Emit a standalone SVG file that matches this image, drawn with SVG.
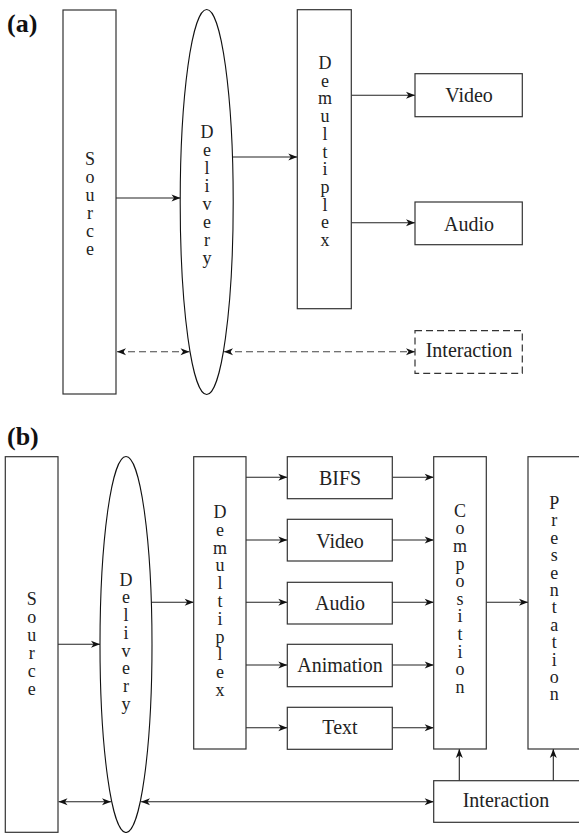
<svg xmlns="http://www.w3.org/2000/svg" width="579" height="833" viewBox="0 0 579 833">
<defs>
<style>
.box{fill:#fff;stroke:#333;stroke-width:1.2}
.dbox{fill:#fff;stroke:#333;stroke-width:1.2;stroke-dasharray:7,4}
.ell{fill:#fff;stroke:#111;stroke-width:1.1}
.t{font-family:"Liberation Serif","Times New Roman",serif;font-size:20px;fill:#222;text-anchor:middle}
.v{font-family:"Liberation Serif","Times New Roman",serif;font-size:18px;fill:#222;text-anchor:middle}
.lbl{font-family:"Liberation Serif","Times New Roman",serif;font-size:26px;font-weight:bold;fill:#111}
.c{fill:none;stroke:#222;stroke-width:1.1}
.a{marker-end:url(#ah)}
.aa{marker-end:url(#ah);marker-start:url(#ah)}
.d{stroke-dasharray:7,4;stroke:#444}
</style>
<marker id="ah" markerUnits="userSpaceOnUse" markerWidth="12" markerHeight="10" viewBox="-1 -5 12 10" refX="9" refY="0" orient="auto-start-reverse">
<path d="M0,-3.5 L9,0 L0,3.5 L2.5,0 Z" fill="#111"/>
</marker>
</defs>

<rect width="579" height="833" fill="#fff"/>

<text class="lbl" x="7" y="32">(a)</text>
<text class="lbl" x="7" y="445">(b)</text>

<g id="connectors">
<line class="c a" x1="116" y1="198" x2="180.5" y2="198"/>
<line class="c a" x1="232.5" y1="157" x2="297.3" y2="157"/>
<line class="c a" x1="351.3" y1="95.3" x2="415" y2="95.3"/>
<line class="c a" x1="351.3" y1="222.7" x2="415" y2="222.7"/>
<line class="c aa d" x1="117" y1="351.7" x2="189.5" y2="351.7"/>
<line class="c aa d" x1="224" y1="351.7" x2="415" y2="351.7"/>
<line class="c a" x1="58" y1="644.3" x2="100" y2="644.3"/>
<line class="c a" x1="151.3" y1="602.3" x2="193.7" y2="602.3"/>
<line class="c a" x1="246" y1="477.3" x2="287.3" y2="477.3"/>
<line class="c a" x1="246" y1="540" x2="287.3" y2="540"/>
<line class="c a" x1="246" y1="602.3" x2="287.3" y2="602.3"/>
<line class="c a" x1="246" y1="665" x2="287.3" y2="665"/>
<line class="c a" x1="246" y1="727.7" x2="287.3" y2="727.7"/>
<line class="c a" x1="392.3" y1="477.3" x2="433.7" y2="477.3"/>
<line class="c a" x1="392.3" y1="540" x2="433.7" y2="540"/>
<line class="c a" x1="392.3" y1="602.3" x2="433.7" y2="602.3"/>
<line class="c a" x1="392.3" y1="665" x2="433.7" y2="665"/>
<line class="c a" x1="392.3" y1="727.7" x2="433.7" y2="727.7"/>
<line class="c a" x1="486.3" y1="602.3" x2="528" y2="602.3"/>
<line class="c a" x1="459.3" y1="780.7" x2="459.3" y2="749"/>
<line class="c a" x1="553.3" y1="780.7" x2="553.3" y2="749"/>
<line class="c aa" x1="58.5" y1="801.7" x2="111" y2="801.7"/>
<line class="c aa" x1="141" y1="801.7" x2="433.7" y2="801.7"/>
</g>

<g id="a-source">
<rect class="box" x="63" y="10" width="53" height="384"/>
<text class="v"><tspan x="90" y="165">S</tspan><tspan x="90" y="183">o</tspan><tspan x="90" y="201">u</tspan><tspan x="90" y="219">r</tspan><tspan x="90" y="237">c</tspan><tspan x="90" y="255">e</tspan></text>
</g>
<g id="a-delivery">
<ellipse class="ell" cx="206.7" cy="202" rx="26.5" ry="192.5"/>
<text class="v"><tspan x="207" y="138">D</tspan><tspan x="207" y="156">e</tspan><tspan x="207" y="174">l</tspan><tspan x="207" y="192">i</tspan><tspan x="207" y="210">v</tspan><tspan x="207" y="228">e</tspan><tspan x="207" y="246">r</tspan><tspan x="207" y="264">y</tspan></text>
</g>
<g id="a-demultiplex">
<rect class="box" x="297.3" y="9.7" width="54" height="299"/>
<text class="v"><tspan x="325" y="69">D</tspan><tspan x="325" y="86.7">e</tspan><tspan x="325" y="104.4">m</tspan><tspan x="325" y="122.1">u</tspan><tspan x="325" y="139.8">l</tspan><tspan x="325" y="157.5">t</tspan><tspan x="325" y="175.2">i</tspan><tspan x="325" y="192.9">p</tspan><tspan x="325" y="210.6">l</tspan><tspan x="325" y="228.3">e</tspan><tspan x="325" y="246">x</tspan></text>
</g>
<g id="a-video">
<rect class="box" x="415" y="73.7" width="107.3" height="43"/>
<text class="t" x="469" y="101.5">Video</text>
</g>
<g id="a-audio">
<rect class="box" x="415" y="202" width="107.3" height="42.7"/>
<text class="t" x="469" y="231">Audio</text>
</g>
<g id="a-interaction">
<rect class="dbox" x="415" y="330.7" width="107.3" height="42.6"/>
<text class="t" x="469" y="357">Interaction</text>
</g>

<g id="b-source">
<rect class="box" x="5.3" y="456.7" width="52.7" height="375.6"/>
<text class="v"><tspan x="31.7" y="605">S</tspan><tspan x="31.7" y="623">o</tspan><tspan x="31.7" y="641">u</tspan><tspan x="31.7" y="659">r</tspan><tspan x="31.7" y="677">c</tspan><tspan x="31.7" y="695">e</tspan></text>
</g>
<g id="b-delivery">
<ellipse class="ell" cx="126" cy="644.5" rx="26" ry="188"/>
<text class="v"><tspan x="126" y="585.7">D</tspan><tspan x="126" y="603.4">e</tspan><tspan x="126" y="621.1">l</tspan><tspan x="126" y="638.8">i</tspan><tspan x="126" y="656.5">v</tspan><tspan x="126" y="674.2">e</tspan><tspan x="126" y="691.9">r</tspan><tspan x="126" y="709.6">y</tspan></text>
</g>
<g id="b-demultiplex">
<rect class="box" x="193.7" y="456.7" width="52.3" height="292.3"/>
<text class="v"><tspan x="220" y="518">D</tspan><tspan x="220" y="535.8">e</tspan><tspan x="220" y="553.6">m</tspan><tspan x="220" y="571.4">u</tspan><tspan x="220" y="589.2">l</tspan><tspan x="220" y="607">t</tspan><tspan x="220" y="624.8">i</tspan><tspan x="220" y="642.6">p</tspan><tspan x="220" y="660.4">l</tspan><tspan x="220" y="678.2">e</tspan><tspan x="220" y="696">x</tspan></text>
</g>
<g id="b-bifs">
<rect class="box" x="287.3" y="456.7" width="105" height="42"/>
<text class="t" x="340" y="485">BIFS</text>
</g>
<g id="b-video">
<rect class="box" x="287.3" y="519.3" width="105" height="41.7"/>
<text class="t" x="340" y="547.7">Video</text>
</g>
<g id="b-audio">
<rect class="box" x="287.3" y="582.3" width="105" height="41.7"/>
<text class="t" x="340" y="610">Audio</text>
</g>
<g id="b-animation">
<rect class="box" x="287.3" y="644.3" width="105" height="42.4"/>
<text class="t" x="340" y="671.7">Animation</text>
</g>
<g id="b-text">
<rect class="box" x="287.3" y="707.3" width="105" height="42"/>
<text class="t" x="340" y="734.3">Text</text>
</g>
<g id="b-composition">
<rect class="box" x="433.7" y="456.7" width="52.6" height="292.3"/>
<text class="v"><tspan x="460" y="516.7">C</tspan><tspan x="460" y="534.3">o</tspan><tspan x="460" y="551.9">m</tspan><tspan x="460" y="569.5">p</tspan><tspan x="460" y="587.1">o</tspan><tspan x="460" y="604.7">s</tspan><tspan x="460" y="622.3">i</tspan><tspan x="460" y="639.9">t</tspan><tspan x="460" y="657.5">i</tspan><tspan x="460" y="675.1">o</tspan><tspan x="460" y="692.7">n</tspan></text>
</g>
<g id="b-presentation">
<rect class="box" x="528" y="456.7" width="60" height="292.3"/>
<text class="v"><tspan x="554.3" y="509">P</tspan><tspan x="554.3" y="526.4">r</tspan><tspan x="554.3" y="543.8">e</tspan><tspan x="554.3" y="561.2">s</tspan><tspan x="554.3" y="578.6">e</tspan><tspan x="554.3" y="596">n</tspan><tspan x="554.3" y="613.4">t</tspan><tspan x="554.3" y="630.8">a</tspan><tspan x="554.3" y="648.2">t</tspan><tspan x="554.3" y="665.6">i</tspan><tspan x="554.3" y="683">o</tspan><tspan x="554.3" y="700.4">n</tspan></text>
</g>
<g id="b-interaction">
<rect class="box" x="433.7" y="780.7" width="160" height="41.6"/>
<text class="t" x="506" y="807">Interaction</text>
</g>
</svg>
